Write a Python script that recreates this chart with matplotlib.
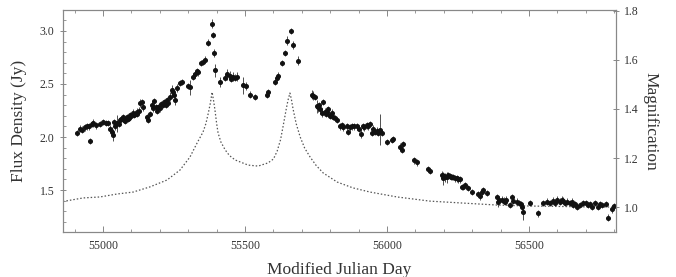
import matplotlib
matplotlib.use("Agg")
import matplotlib.pyplot as plt
from matplotlib.ticker import MultipleLocator

plt.rcParams['font.family'] = ['Liberation Serif', 'DejaVu Serif']

# flux density measurements (MJD, Jy, error)
mjd = [54908, 54919, 54937, 54951, 54954, 54965, 54989, 55011, 55018, 55032,
       55035, 55042, 55049, 55060, 55070, 55085, 55095, 55106, 55120, 55130,
       55137, 55141, 55155, 55158, 55173, 55176, 55190, 55201, 55211, 55225,
       55229, 55236, 55243, 55246, 55254, 55261, 55271, 55278, 55306, 55317,
       55324, 55334, 55352, 55359, 55370, 55384, 55387, 55391, 55394, 55412,
       55437, 55447, 55458, 55472, 55493, 55504, 55518, 55535, 55577, 55581,
       55606, 55613, 55616, 55630, 55641, 55648, 55662, 55669, 55687,
       55736, 55739, 55754, 55757, 55764, 55771, 55775, 55782, 55789, 55792,
       55799, 55806, 55810, 55824, 55834, 55845, 55859, 55862, 55877, 55894,
       55908, 55915, 55930, 55933, 55947, 55958, 55968, 55975, 55982, 56000,
       56018, 56021, 56046, 56053, 56056, 56095, 56106, 56144, 56151, 56194,
       56197, 56204, 56211, 56215, 56222, 56229, 56232, 56239, 56246, 56257,
       56264, 56268, 56275, 56285, 56299, 56320, 56327, 56334, 56338, 56352,
       56387, 56391, 56405, 56415, 56433, 56440, 56458, 56465, 56475, 56479,
       56503, 56532, 56549, 56563, 56574, 56585, 56599, 56609, 56620, 56634,
       56644, 56655, 56669, 56680, 56690, 56708, 56722, 56732, 56743, 56757,
       56778, 56792,
       54960, 55025, 55038, 55063, 55078, 55090, 55100, 55113, 55125, 55180,
       55195, 55215,
       54925, 54945, 54975, 55000, 55055, 55075, 55088, 55110, 55118, 55165,
       55185, 55205, 55220, 55250, 55300, 55330, 55345, 55430, 55450, 55465,
       55745, 55760, 55785, 55800, 55815, 55840, 55870, 55885, 55900, 55920,
       55940, 55950, 55965, 56200, 56225, 56250, 56395, 56410, 56420, 56445,
       56470, 56590, 56615, 56625, 56650, 56660, 56700, 56715, 56750, 56770,
       56800]
flux = [2.04, 2.08, 2.09, 2.10, 1.96, 2.13, 2.12, 2.13, 2.13, 2.05,
        2.02, 2.10, 2.13, 2.16, 2.19, 2.19, 2.21, 2.23, 2.24, 2.32,
        2.33, 2.28, 2.19, 2.16, 2.30, 2.27, 2.25, 2.27, 2.30, 2.35,
        2.32, 2.38, 2.44, 2.42, 2.35, 2.46, 2.51, 2.52, 2.47, 2.57,
        2.59, 2.61, 2.71, 2.73, 2.89, 3.07, 2.96, 2.79, 2.63, 2.52,
        2.59, 2.58, 2.57, 2.57, 2.49, 2.48, 2.40, 2.38, 2.40, 2.42,
        2.52, 2.56, 2.58, 2.70, 2.79, 2.91, 3.00, 2.87, 2.72,
        2.40, 2.39, 2.29, 2.28, 2.26, 2.23, 2.33, 2.24, 2.24, 2.26,
        2.21, 2.23, 2.19, 2.16, 2.10, 2.09, 2.10, 2.05, 2.10, 2.10,
        2.03, 2.10, 2.11, 2.10, 2.04, 2.05, 2.04, 2.07, 2.04, 1.95,
        1.97, 1.98, 1.91, 1.88, 1.93, 1.78, 1.76, 1.70, 1.68, 1.64,
        1.61, 1.62, 1.62, 1.64, 1.63, 1.62, 1.62, 1.61, 1.61, 1.60,
        1.53, 1.53, 1.55, 1.52, 1.48, 1.46, 1.44, 1.48, 1.50, 1.47,
        1.43, 1.39, 1.41, 1.39, 1.36, 1.43, 1.39, 1.38, 1.34, 1.29,
        1.38, 1.28, 1.38, 1.39, 1.38, 1.40, 1.41, 1.39, 1.40, 1.39,
        1.38, 1.36, 1.34, 1.36, 1.38, 1.36, 1.34, 1.38, 1.34, 1.36,
        1.24, 1.32,
        2.12, 2.08, 2.14, 2.17, 2.15, 2.18, 2.20, 2.22, 2.25, 2.34,
        2.28, 2.33,
        2.07, 2.10, 2.11, 2.14, 2.12, 2.16, 2.17, 2.21, 2.22, 2.22,
        2.28, 2.31, 2.30, 2.40, 2.48, 2.62, 2.70, 2.56, 2.55, 2.56,
        2.38, 2.30, 2.22, 2.20, 2.18, 2.11, 2.09, 2.10, 2.08, 2.09,
        2.12, 2.08, 2.06, 1.63, 1.62, 1.60, 1.41, 1.40, 1.41, 1.40,
        1.37, 1.38, 1.41, 1.38, 1.39, 1.37, 1.38, 1.37, 1.37, 1.37,
        1.35]
ferr = [0.03, 0.03, 0.03, 0.03, 0.03, 0.04, 0.03, 0.03, 0.03, 0.04,
        0.06, 0.03, 0.08, 0.03, 0.03, 0.03, 0.03, 0.03, 0.03, 0.04,
        0.03, 0.03, 0.03, 0.03, 0.04, 0.03, 0.03, 0.03, 0.03, 0.03,
        0.03, 0.04, 0.05, 0.04, 0.05, 0.04, 0.03, 0.03, 0.07, 0.03,
        0.03, 0.03, 0.03, 0.03, 0.03, 0.04, 0.03, 0.04, 0.06, 0.05,
        0.05, 0.04, 0.04, 0.04, 0.08, 0.04, 0.03, 0.03, 0.03, 0.03,
        0.03, 0.03, 0.03, 0.03, 0.03, 0.04, 0.03, 0.04, 0.04,
        0.04, 0.04, 0.06, 0.04, 0.04, 0.04, 0.03, 0.03, 0.04, 0.03,
        0.03, 0.03, 0.03, 0.03, 0.03, 0.03, 0.03, 0.03, 0.03, 0.03,
        0.04, 0.03, 0.03, 0.03, 0.03, 0.03, 0.03, 0.15, 0.03, 0.03,
        0.03, 0.03, 0.03, 0.03, 0.03, 0.03, 0.03, 0.03, 0.03, 0.04,
        0.06, 0.04, 0.05, 0.03, 0.03, 0.03, 0.03, 0.03, 0.03, 0.03,
        0.03, 0.03, 0.03, 0.03, 0.03, 0.03, 0.03, 0.03, 0.03, 0.03,
        0.03, 0.05, 0.03, 0.03, 0.03, 0.03, 0.03, 0.03, 0.03, 0.07,
        0.03, 0.03, 0.03, 0.03, 0.03, 0.03, 0.03, 0.03, 0.03, 0.03,
        0.03, 0.03, 0.03, 0.03, 0.03, 0.03, 0.03, 0.03, 0.03, 0.03,
        0.03, 0.04,
        0.03, 0.03, 0.03, 0.03, 0.03, 0.03, 0.03, 0.03, 0.03, 0.03,
        0.03, 0.03,
        0.03, 0.03, 0.03, 0.03, 0.03, 0.03, 0.03, 0.03, 0.03, 0.03,
        0.03, 0.03, 0.03, 0.03, 0.03, 0.03, 0.03, 0.03, 0.03, 0.03,
        0.03, 0.03, 0.03, 0.03, 0.03, 0.03, 0.03, 0.03, 0.03, 0.03,
        0.03, 0.03, 0.03, 0.03, 0.03, 0.03, 0.03, 0.03, 0.03, 0.03,
        0.03, 0.03, 0.03, 0.03, 0.03, 0.03, 0.03, 0.03, 0.03, 0.03,
        0.03]

# model magnification curve (MJD, magnification)
model_mjd = [54859, 54866, 54930, 54989, 55049, 55106, 55165, 55225, 55271,
             55306, 55331, 55352, 55362, 55370, 55378, 55384, 55389, 55394,
             55400, 55405, 55415, 55430, 55445, 55465, 55511, 55546, 55581,
             55600, 55613, 55625, 55634, 55645, 55651, 55658, 55663, 55669,
             55680, 55694, 55710, 55729, 55750, 55775, 55824, 55880, 55940,
             56035, 56151, 56268, 56387, 56503, 56739, 56806]
model_mag = [1.022, 1.024, 1.037, 1.041, 1.053, 1.061, 1.082, 1.110, 1.151,
             1.204, 1.261, 1.306, 1.340, 1.380, 1.425, 1.469, 1.435, 1.396,
             1.340, 1.302, 1.265, 1.233, 1.210, 1.192, 1.171, 1.167, 1.180,
             1.196, 1.228, 1.275, 1.330, 1.400, 1.435, 1.465, 1.440, 1.400,
             1.340, 1.286, 1.240, 1.204, 1.170, 1.139, 1.102, 1.078, 1.061,
             1.041, 1.024, 1.016, 1.008, 1.004, 1.000, 1.000]

xticks = [55000, 55500, 56000, 56500]
flux_ticks = [1.5, 2.0, 2.5, 3.0]
mag_ticks = [1.0, 1.2, 1.4, 1.6, 1.8]

spine_col = '#888888'
text_col = '#333333'

fig, ax = plt.subplots(figsize=(6.76, 2.77), dpi=100)
fig.subplots_adjust(left=63 / 676, right=616 / 676, top=1 - 10 / 277, bottom=1 - 232 / 277)

ax2 = ax.twinx()
ax2.plot(model_mjd, model_mag, color='#555555', lw=0.9, ls=(0, (1.2, 1.6)))
ax2.set_ylim(0.898, 1.804)
ax2.set_yticks(mag_ticks)
ax2.set_yticklabels([f'{t:.1f}' for t in mag_ticks])
ax2.set_ylabel('Magnification', fontsize=12.5, color=text_col, rotation=270, labelpad=14)

ax.set_zorder(ax2.get_zorder() + 1)
ax.patch.set_visible(False)
ax.errorbar(mjd, flux, yerr=ferr, xerr=3, fmt='o', ms=2.6, color='#111111',
            ecolor='#333333', elinewidth=0.6, capsize=0)

ax.set_xlim(54859, 56806)
ax.set_ylim(1.104, 3.198)
ax.set_xticks(xticks)
ax.xaxis.set_minor_locator(MultipleLocator(100))
ax.set_yticks(flux_ticks)
ax.set_yticklabels([f'{t:.1f}' for t in flux_ticks])
ax.yaxis.set_minor_locator(MultipleLocator(0.1))
ax.set_xlabel('Modified Julian Day', fontsize=12.5, color=text_col, labelpad=7)
ax.set_ylabel('Flux Density (Jy)', fontsize=12.5, color=text_col, labelpad=9)

ax.tick_params(axis='x', which='both', direction='in', top=True, colors=spine_col,
               labelcolor=text_col, labelsize=8.5, pad=6)
ax.tick_params(axis='x', which='major', length=4, width=0.7)
ax.tick_params(axis='x', which='minor', length=2.5, width=0.6)
ax.tick_params(axis='y', which='major', direction='inout', length=5, width=0.7,
               colors=spine_col, labelcolor=text_col, labelsize=8.5)
ax.tick_params(axis='y', which='minor', direction='in', length=2.5, width=0.6, colors=spine_col)
ax2.tick_params(axis='y', which='major', direction='inout', length=5, width=0.7,
                colors=spine_col, labelcolor=text_col, labelsize=8.5)

for a in (ax, ax2):
    for s in a.spines.values():
        s.set_color(spine_col)
        s.set_linewidth(0.8)

fig.savefig('out.png', dpi=100)
